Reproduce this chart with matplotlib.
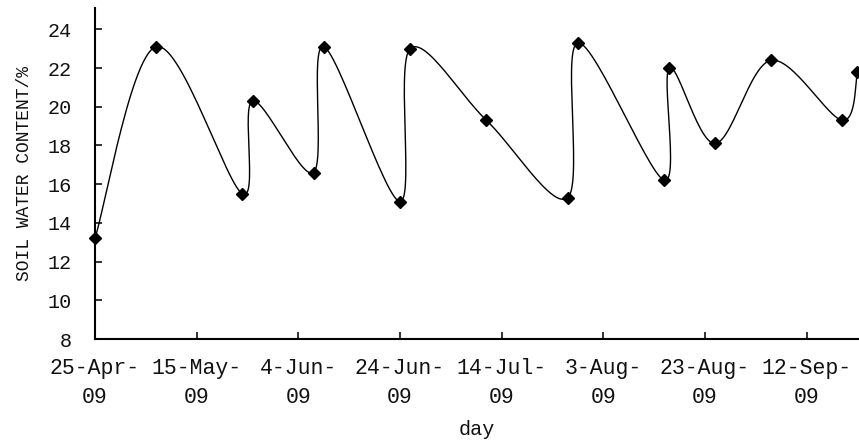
import numpy as np
import pandas as pd
import matplotlib
matplotlib.use('Agg')
import matplotlib.pyplot as plt

# soil water content readings
dates=['2009-04-25','2009-05-07','2009-05-24','2009-05-26','2009-06-07','2009-06-09',
       '2009-06-24','2009-06-26','2009-07-11','2009-07-27','2009-07-29','2009-08-15',
       '2009-08-16','2009-08-25','2009-09-05','2009-09-19','2009-09-22']
swc=[13.2,23.1,15.5,20.3,16.6,23.1,15.1,23.0,19.3,15.3,23.3,16.2,22.0,18.1,22.4,19.3,21.8]

tick_dates=['2009-04-25','2009-05-15','2009-06-04','2009-06-24','2009-07-14',
            '2009-08-03','2009-08-23','2009-09-12']
tick_labels=['25-Apr-\n09','15-May-\n09','4-Jun-\n09','24-Jun-\n09','14-Jul-\n09',
             '3-Aug-\n09','23-Aug-\n09','12-Sep-\n09']

start=pd.Timestamp(dates[0])
days=np.array([(pd.Timestamp(d)-start).days for d in dates],dtype=float)
tdays=[(pd.Timestamp(d)-start).days for d in tick_dates]

plt.rcParams['font.family']=['Liberation Mono','DejaVu Sans Mono']

fig=plt.figure(figsize=(8.59,4.40),dpi=100)
ax=fig.add_axes([95/859,1-339/440,1-95/859,(339-8)/440])
ax.set_xlim(0,150.3)
ax.set_ylim(8,25.1)


def smooth(ax,x,y,n=30):
    # excel-like smoothed line, built in display space
    pts=ax.transData.transform(np.column_stack([x,y]))
    P=np.vstack([pts[0],pts,pts[-1]])
    out=[]
    for i in range(1,len(P)-2):
        p0,p1,p2,p3=P[i-1],P[i],P[i+1],P[i+2]
        c1=p1+(p2-p0)/6
        c2=p2-(p3-p1)/6
        t=np.linspace(0,1,n)[:,None]
        seg=(1-t)**3*p1+3*(1-t)**2*t*c1+3*(1-t)*t**2*c2+t**3*p2
        out.append(seg)
    out=np.vstack(out)
    return ax.transData.inverted().transform(out)


curve=smooth(ax,days,swc)
ax.plot(curve[:,0],curve[:,1],color='black',lw=1.0,clip_on=False)
ax.plot(days,swc,linestyle='none',marker='D',ms=6,color='black',clip_on=False)

ax.set_yticks(range(8,25,2))
ax.set_xticks(tdays)
ax.set_xticklabels(tick_labels,linespacing=1.45)
ax.tick_params(axis='both',direction='in',length=5,width=1.2,colors='#111',labelsize=14.5)
ax.tick_params(axis='y',pad=17)
ax.tick_params(axis='x',pad=14,labelsize=15.5)

for s in ['top','right']:
    ax.spines[s].set_visible(False)
for s in ['left','bottom']:
    ax.spines[s].set_linewidth(1.5)

ax.set_ylabel('SOIL WATER CONTENT/%',fontsize=13,color='#111')
ax.yaxis.set_label_coords(-62/764,0.5)
ax.set_xlabel('day',fontsize=14.5,color='#111',labelpad=9)

fig.savefig('out.png',dpi=100)
